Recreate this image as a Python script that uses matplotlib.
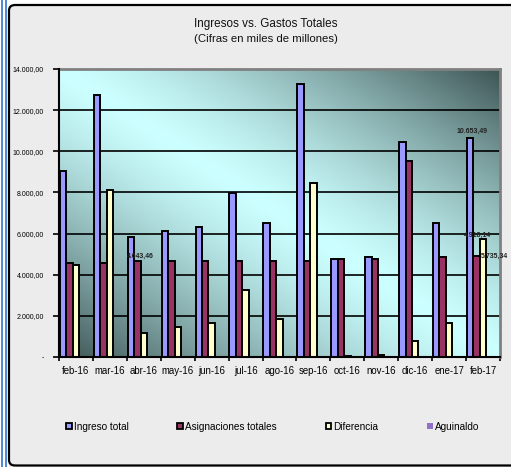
import numpy as np
import matplotlib
matplotlib.use("Agg")
import matplotlib.pyplot as plt
from matplotlib.patches import FancyBboxPatch, Rectangle
from matplotlib.lines import Line2D

plt.rcParams['font.family'] = ['Liberation Sans', 'DejaVu Sans']

categories = ["feb-16", "mar-16", "abr-16", "may-16", "jun-16", "jul-16", "ago-16",
              "sep-16", "oct-16", "nov-16", "dic-16", "ene-17", "feb-17"]
ingreso_total = [9050, 12750, 5830, 6110, 6320, 7950, 6510, 13250, 4740, 4850, 10430, 6510, 10653.49]
asignaciones_totales = [4560, 4580, 4643.46, 4650, 4650, 4650, 4650, 4650, 4740, 4740, 9540, 4860, 4918.14]
diferencia = [4490, 8100, 1190, 1450, 1650, 3250, 1850, 8480, 60, 90, 780, 1640, 5735.34]
aguinaldo = [0] * 13
yticks = [0, 2000, 4000, 6000, 8000, 10000, 12000, 14000]

W, H = 511, 467
fig = plt.figure(figsize=(W / 100, H / 100), dpi=100)
fig.patch.set_facecolor("white")

# panel background and frame
fig.patches.append(Rectangle((9 / W, 0), 1, 1 - 5 / H, transform=fig.transFigure,
                             facecolor="#ECECEC", edgecolor="none", zorder=-5))
fig.patches.append(FancyBboxPatch((9 / W, 1.5 / H), (W + 10) / W, 1 - 6.5 / H,
                                  boxstyle="round,pad=0,rounding_size=0.012",
                                  transform=fig.transFigure, facecolor="none",
                                  edgecolor="black", lw=1.6, zorder=1))
for xp in (2.3, 6.0):
    fig.lines.append(Line2D([xp / W, xp / W], [0, 1], transform=fig.transFigure,
                            color="#4F86D6", lw=1.4, zorder=2))

ax = fig.add_axes([59 / W, 1 - 357 / H, (500 - 59) / W, (357 - 69) / H])
ax.set_zorder(3)
ax.set_facecolor("none")

# gradient background of plot area
n = 200
u = np.linspace(0, 1, n)
U, V = np.meshgrid(u, u)
t = np.clip(np.abs(U + V - 1.0), 0, 1) ** 1.35
light = np.array([0.80, 1.0, 1.0])
dark = np.array([0.24, 0.33, 0.33])
img = light[None, None, :] * (1 - t[..., None]) + dark[None, None, :] * t[..., None]
ax.imshow(img, extent=[0, 1, 0, 1], origin="lower", transform=ax.transAxes,
          aspect="auto", zorder=0)

x = np.arange(len(categories))
w = 0.19
kw = dict(width=w, edgecolor="black", linewidth=1.4, zorder=3)
b1 = ax.bar(x - 0.38, ingreso_total, color="#9999FF", **kw)
b2 = ax.bar(x - 0.19, asignaciones_totales, color="#993366", **kw)
b3 = ax.bar(x, diferencia, color="#FFFFCC", **kw)
b4 = ax.bar(x + 0.19, aguinaldo, color="#9370C8", width=w, zorder=3)

ax.set_xlim(-0.5, len(categories) - 0.5)
ax.set_ylim(0, 14000)
ax.set_yticks(yticks)

def fmt(v):
    return f"{v:,.2f}".replace(",", "X").replace(".", ",").replace("X", ".")

ax.set_yticklabels(["-"] + [fmt(v) for v in yticks[1:]], fontsize=5)
ax.yaxis.grid(True, color="black", lw=1.2, zorder=1)
ax.set_axisbelow(True)
ax.tick_params(axis="y", length=4, width=1.2, pad=7, direction="out")

ax.set_xticks(np.arange(-0.5, len(categories), 1.0))
ax.set_xticklabels([])
ax.set_xticks(x, minor=True)
ax.set_xticklabels(categories, minor=True, fontsize=6.9)
ax.tick_params(axis="x", which="major", length=3, width=1.2, direction="out")
ax.tick_params(axis="x", which="minor", length=0, pad=6.5)

for s in ("left", "bottom"):
    ax.spines[s].set_color("black")
    ax.spines[s].set_linewidth(1.5)
    ax.spines[s].set_zorder(4)
for s in ("top", "right"):
    ax.spines[s].set_color("#808080")
    ax.spines[s].set_linewidth(2)

lab_kw = dict(textcoords="offset points", fontsize=5, fontweight="bold",
              color="#222222", zorder=5)
ax.annotate(fmt(asignaciones_totales[2]), (x[2] - 0.19, asignaciones_totales[2]),
            xytext=(2, 1.5), ha="center", va="bottom", **lab_kw)
ax.annotate(fmt(ingreso_total[12]), (x[12] - 0.38, ingreso_total[12]),
            xytext=(1.5, 2), ha="center", va="bottom", **lab_kw)
ax.annotate(fmt(asignaciones_totales[12]), (x[12] - 0.19, asignaciones_totales[12]),
            xytext=(0.5, 12), ha="center", va="bottom", **lab_kw)
ax.annotate(fmt(diferencia[12]), (x[12], diferencia[12]),
            xytext=(-1.5, -12.5), ha="left", va="center", **lab_kw)

fig.text(266 / W, 1 - 24 / H, "Ingresos vs. Gastos Totales", ha="center", va="center",
         fontsize=8.4, color="#111111")
fig.text(266 / W, 1 - 39 / H, "(Cifras en miles de millones)", ha="center", va="center",
         fontsize=8.2, color="#111111")

h1 = Rectangle((0, 0), 1, 1, facecolor="#9999FF", edgecolor="black", lw=1.3)
h2 = Rectangle((0, 0), 1, 1, facecolor="#993366", edgecolor="black", lw=1.3)
h3 = Rectangle((0, 0), 1, 1, facecolor="#FFFFCC", edgecolor="black", lw=1.3)
h4 = Rectangle((0, 0), 1, 1, facecolor="#9370C8", edgecolor="none")
leg = fig.legend([h1, h2, h3, h4], ["Ingreso total", "Asignaciones totales", "Diferencia", "Aguinaldo"],
                 loc="center left", bbox_to_anchor=(66 / W, 1 - 427 / H), ncol=4,
                 frameon=False, fontsize=7.2, handlelength=0.55, handleheight=0.55,
                 handletextpad=0.2, columnspacing=4.9, borderaxespad=0, borderpad=0)

fig.savefig("out.png", dpi=100)
